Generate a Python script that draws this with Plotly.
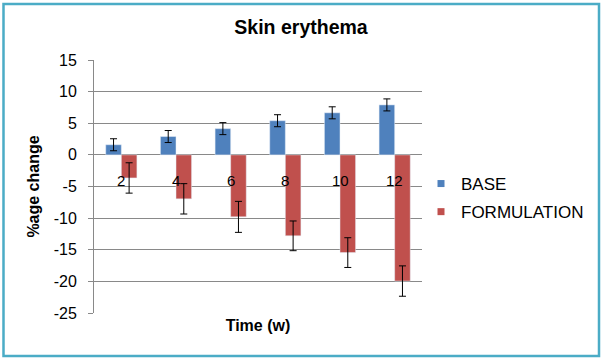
import plotly.graph_objects as go

weeks = ["2", "4", "6", "8", "10", "12"]
base_vals = [1.6, 2.9, 4.15, 5.4, 6.65, 7.9]
base_err = [0.95, 0.95, 0.95, 0.95, 0.95, 0.95]
form_vals = [-3.65, -6.95, -9.8, -12.8, -15.45, -19.95]
form_err = [2.4, 2.4, 2.45, 2.35, 2.35, 2.4]
y_ticks = [15, 10, 5, 0, -5, -10, -15, -20, -25]
y_tick_text = ["15", "10", "5", "0", "-5", "-10", "-15", "-20", "-25"]

BLUE = "#4F81BD"
RED = "#C0504D"
GRID = "#898989"
FONT = "Liberation Sans, Arial, sans-serif"

W, H = 603, 360
L, R, T, B = 94, 181, 60, 47
PW, PH = W - L - R, H - T - B

fig = go.Figure()
fig.add_trace(go.Bar(
    x=weeks, y=base_vals, name="BASE", marker_color=BLUE, showlegend=False,
    error_y=dict(type="data", array=base_err, color="black", thickness=1, width=3.5),
))
fig.add_trace(go.Bar(
    x=weeks, y=form_vals, name="FORMULATION", marker_color=RED, showlegend=False,
    error_y=dict(type="data", array=form_err, color="black", thickness=1, width=3.5),
))
# legend entries (small square markers as in the reference)
for name, col in [("BASE", BLUE), ("FORMULATION", RED)]:
    fig.add_trace(go.Scatter(
        x=[None], y=[None], mode="markers", name=name, legendgroup=name,
        marker=dict(symbol="square", size=7, color=col),
    ))

# category labels sitting just below the zero line (x = category index)
for i, w in enumerate(weeks):
    fig.add_annotation(x=i, y=0, xref="x", yref="y", text=w, showarrow=False,
                       yanchor="middle", yshift=-26,
                       font=dict(family=FONT, size=15, color="black"))

# outer border
fig.add_shape(type="rect", xref="paper", yref="paper",
              x0=(3.5 - L) / PW, x1=(599 - L) / PW,
              y0=(H - B - 356) / PH, y1=(H - B - 4) / PH,
              line=dict(color="#4BACC6", width=2.5), fillcolor="rgba(0,0,0,0)",
              layer="below")

fig.update_layout(
    width=W, height=H,
    margin=dict(l=L, r=R, t=T, b=B, autoexpand=False),
    paper_bgcolor="white", plot_bgcolor="white",
    barmode="group", bargap=0.43, bargroupgap=0,
    font=dict(family=FONT, color="black"),
    title=dict(text="<b>Skin erythema</b>", x=301 / W, xanchor="center",
               y=1 - 27 / H, yanchor="middle", yref="container",
               font=dict(family=FONT, size=19.5, color="black")),
    legend=dict(x=(421 - L) / PW + 0.0, xanchor="left", y=(H - B - 198) / PH,
                yanchor="middle", font=dict(family=FONT, size=17, color="black"),
                traceorder="grouped", tracegroupgap=3, itemwidth=30,
                bgcolor="rgba(0,0,0,0)"),
    xaxis=dict(type="category", categoryorder="array", categoryarray=weeks,
               range=[-0.5, len(weeks) - 0.5],
               showticklabels=False, ticks="", showgrid=False, showline=False,
               zeroline=False,
               title=dict(text="<b>Time (w)</b>", standoff=6,
                          font=dict(family=FONT, size=16, color="black"))),
    yaxis=dict(range=[-25, 15], tickvals=y_ticks, ticktext=y_tick_text,
               showgrid=True, gridcolor=GRID, gridwidth=1,
               zeroline=True, zerolinecolor=GRID, zerolinewidth=1,
               showline=True, linecolor=GRID, linewidth=1,
               ticks="outside", ticklen=5, tickcolor=GRID,
               ticklabelstandoff=8,
               tickfont=dict(family=FONT, size=16, color="black"),
               title=dict(text="<b>%age change</b>", standoff=10,
                          font=dict(family=FONT, size=16, color="black"))),
)

fig.write_html("out.html", config={"displayModeBar": False},
               post_script="document.body.style.margin='0';document.body.style.padding='0';")
